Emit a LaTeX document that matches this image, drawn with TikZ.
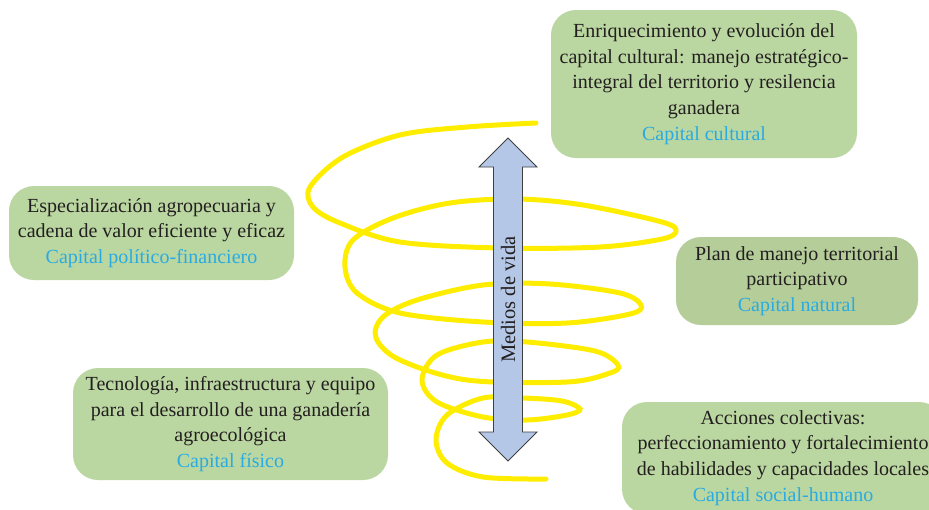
\documentclass[tikz,border=0pt]{standalone}
\usepackage{fontspec}
\setmainfont{Liberation Serif}
\usepackage{tikz}
\usetikzlibrary{calc}
\definecolor{boxgreen}{RGB}{187,215,161}
\definecolor{boxgreendark}{RGB}{181,205,153}
\definecolor{capblue}{RGB}{41,171,226}
\definecolor{spiralyellow}{RGB}{255,237,0}
\definecolor{arrowblue}{RGB}{180,199,231}
\definecolor{txtgray}{RGB}{35,31,32}

\begin{document}
\begin{tikzpicture}[x=1pt, y=-1pt,
		capbox/.style={rounded corners=25pt, fill=boxgreen, align=center, inner sep=0pt,
			text=txtgray, font=\fontsize{20}{25.7}\selectfont},
		cap/.style={text=capblue}]
		\useasboundingbox (0,0) rectangle (929,509);
		% boxes
		\node[capbox, minimum width=306pt, minimum height=148pt] (K1) at (704,84)
			{Enriquecimiento y evolución del\\ capital cultural: manejo estratégico-\\ integral del territorio y resilencia\\ ganadera\\ \textcolor{capblue}{Capital cultural}};
		\node[capbox, minimum width=285pt, minimum height=94pt] (K2) at (151.5,233)
			{Especialización agropecuaria y\\ cadena de valor eficiente y eficaz\\ \textcolor{capblue}{Capital político-financiero}};
		\node[capbox, fill=boxgreendark, minimum width=242pt, minimum height=88pt] (K3) at (797,281)
			{Plan de manejo territorial\\ participativo\\ \textcolor{capblue}{Capital natural}};
		\node[capbox, minimum width=315pt, minimum height=112pt] (K4) at (230.5,424)
			{Tecnología, infraestructura y equipo\\ para el desarrollo de una ganadería\\ agroecológica\\ \textcolor{capblue}{Capital físico}};
		\node[capbox, minimum width=322pt, minimum height=112pt] (K5) at (783,458)
			{Acciones colectivas:\\ perfeccionamiento y fortalecimiento\\ de habilidades y capacidades locales\\ \textcolor{capblue}{Capital social-humano}};
		% spiral
		\draw[spiralyellow, line width=5pt, line cap=round] plot[smooth, tension=0.55] coordinates {
			(536,123) (467,127) (400,135) (343,157) (310,187) (313,207) (340,223) (400,242)
			(500,248) (600,247) (662,239) (676,231) (662,222) (583,205) (517,199) (450,203)
			(393,218) (353,240) (345,267) (357,293) (400,313) (483,322) (567,323) (630,314)
			(641,305) (620,293) (550,284) (483,285) (417,300) (383,317) (376,338) (400,360)
			(467,380) (567,382) (610,373) (618,365) (595,351) (527,342) (483,342) (437,355)
			(422,380) (437,402) (483,417) (527,420) (567,415) (580,409) (562,401) (523,398)
			(483,398) (447,415) (436,440) (447,463) (483,477) (546,479)};
		% double arrow
		\coordinate (A) at (508,138);
		\coordinate (B) at (508,461);
		\filldraw[fill=arrowblue, draw=black!75, line width=0.8pt]
			(A) -- ($(A)+(29,29)$) -- ($(A)+(14.5,29)$) -- ($(B)+(14.5,-29)$) -- ($(B)+(29,-29)$)
			-- (B) -- ($(B)+(-29,-29)$) -- ($(B)+(-14.5,-29)$) -- ($(A)+(-14.5,29)$) -- ($(A)+(-29,29)$) -- cycle;
		\node[rotate=90, text=txtgray, font=\fontsize{20.5}{24}\selectfont] (M) at ($(A)!0.5!(B)$) {Medios de vida};
	\end{tikzpicture}
\end{document}
